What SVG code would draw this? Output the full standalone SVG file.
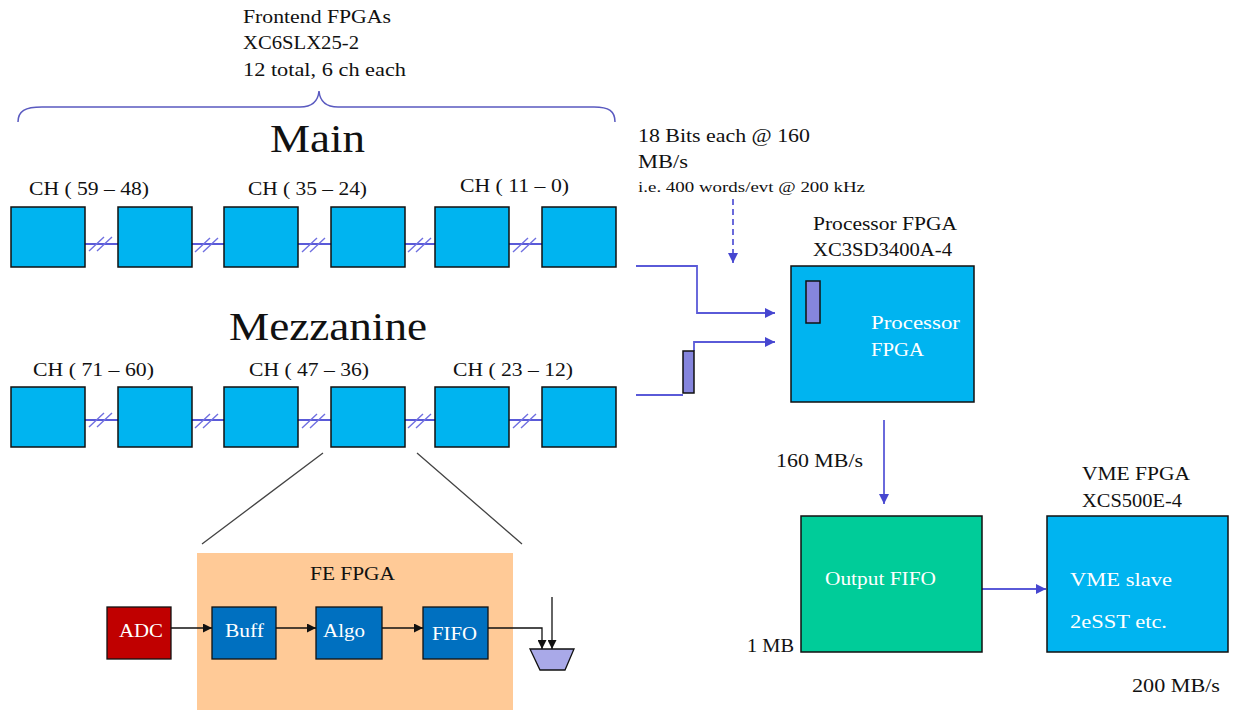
<svg xmlns="http://www.w3.org/2000/svg" width="1233" height="710" viewBox="0 0 1233 710">
<defs>
<style>
text{font-family:"Liberation Serif","Times New Roman",serif;font-size:18px;fill:#111}
.w{fill:#fff}
.big{font-size:40px}
.sm{font-size:14px}
.ch{fill:#00B4F0;stroke:#111;stroke-width:1.5}
.pur{fill:#8585DD;stroke:#111;stroke-width:1.5}
.bus{stroke:#5A5AD8;stroke-width:1.8;fill:none}
.hash{stroke:#7070E0;stroke-width:1.4;fill:none}
.blk{stroke:#111;stroke-width:1.3;fill:none}
.gry{stroke:#444;stroke-width:1.3;fill:none}
</style>
<marker id="ab" viewBox="0 0 10 10" refX="10" refY="5" markerWidth="10" markerHeight="10" markerUnits="userSpaceOnUse" orient="auto"><path d="M0,0 L10,5 L0,10 Z" fill="#4646D0"/></marker>
<marker id="ak" viewBox="0 0 10 10" refX="10" refY="5" markerWidth="9" markerHeight="9" markerUnits="userSpaceOnUse" orient="auto"><path d="M0,0 L10,5 L0,10 Z" fill="#111"/></marker>
</defs>
<rect width="1233" height="710" fill="#fff"/>

<g id="header">
<text x="243" y="23" textLength="148" lengthAdjust="spacingAndGlyphs">Frontend FPGAs</text>
<text x="243" y="49" textLength="116" lengthAdjust="spacingAndGlyphs">XC6SLX25-2</text>
<text x="243" y="76" textLength="163" lengthAdjust="spacingAndGlyphs">12  total, 6 ch each</text>
<path d="M18,122 C18,111 25,107 42,107 L300,107 C312,107 318,102 319,91 C320,102 326,107 338,107 L594,107 C609,107 615,111 615,122" fill="none" stroke="#5A5AC0" stroke-width="1.5"/>
<text class="big" x="270" y="152" textLength="95" lengthAdjust="spacingAndGlyphs">Main</text>
<text class="big" x="229" y="340" textLength="198" lengthAdjust="spacingAndGlyphs">Mezzanine</text>
</g>

<g id="connectors">
<!-- main row links -->
<path class="bus" d="M85,244 H118 M192,244 H224 M298,244 H331 M405,244 H435 M509,244 H542"/>
<path class="hash" d="M89,251 L104,237 M97,251 L112,237 M195,252 L210,238 M203,252 L218,238 M302,252 L317,238 M310,252 L325,238 M408,252 L423,238 M416,252 L431,238 M513,252 L528,238 M521,252 L536,238"/>
<!-- mezz row links -->
<path class="bus" d="M85,420 H118 M192,420 H224 M298,420 H331 M405,420 H435 M509,420 H542"/>
<path class="hash" d="M89,427 L104,413 M97,427 L112,413 M195,428 L210,414 M203,428 L218,414 M302,428 L317,414 M310,428 L325,414 M408,428 L423,414 M416,428 L431,414 M513,428 L528,414 M521,428 L536,414"/>
<!-- to processor -->
<path class="bus" d="M636,266 H697 V313 H775" marker-end="url(#ab)"/>
<path class="bus" d="M636,395 H683"/>
<path class="bus" d="M694,351 V342 H775" marker-end="url(#ab)"/>
<path class="bus" d="M733,199 V263" stroke-dasharray="6,4" marker-end="url(#ab)"/>
<path class="bus" d="M884,420 V504" marker-end="url(#ab)"/>
<path class="bus" d="M982,589 H1046" marker-end="url(#ab)"/>
<!-- zoom lines -->
<path class="gry" d="M323,453 L202,544 M417,453 L522,544"/>
</g>

<g id="main-row">
<rect class="ch" x="11" y="207" width="74" height="60"/>
<rect class="ch" x="118" y="207" width="74" height="60"/>
<rect class="ch" x="224" y="207" width="74" height="60"/>
<rect class="ch" x="331" y="207" width="74" height="60"/>
<rect class="ch" x="435" y="207" width="74" height="60"/>
<rect class="ch" x="542" y="207" width="74" height="60"/>
<text x="29" y="195" textLength="120" lengthAdjust="spacingAndGlyphs">CH ( 59 – 48)</text>
<text x="248" y="195" textLength="119" lengthAdjust="spacingAndGlyphs">CH ( 35 – 24)</text>
<text x="460" y="192" textLength="109" lengthAdjust="spacingAndGlyphs">CH ( 11 – 0)</text>
</g>

<g id="mezz-row">
<rect class="ch" x="11" y="387" width="74" height="60"/>
<rect class="ch" x="118" y="387" width="74" height="60"/>
<rect class="ch" x="224" y="387" width="74" height="60"/>
<rect class="ch" x="331" y="387" width="74" height="60"/>
<rect class="ch" x="435" y="387" width="74" height="60"/>
<rect class="ch" x="542" y="387" width="74" height="60"/>
<text x="33" y="376" textLength="121" lengthAdjust="spacingAndGlyphs">CH ( 71 – 60)</text>
<text x="249" y="376" textLength="120" lengthAdjust="spacingAndGlyphs">CH ( 47 – 36)</text>
<text x="453" y="376" textLength="120" lengthAdjust="spacingAndGlyphs">CH ( 23 – 12)</text>
<rect class="pur" x="683" y="351" width="11" height="42"/>
</g>

<g id="rate-label">
<text x="638" y="142" textLength="172" lengthAdjust="spacingAndGlyphs">18  Bits  each @ 160</text>
<text x="638" y="168" textLength="50" lengthAdjust="spacingAndGlyphs">MB/s</text>
<text class="sm" x="638" y="192" textLength="227" lengthAdjust="spacingAndGlyphs">i.e. 400 words/evt @ 200 kHz</text>
</g>

<g id="processor">
<text x="813" y="230" textLength="144" lengthAdjust="spacingAndGlyphs">Processor FPGA</text>
<text x="813" y="256" textLength="139" lengthAdjust="spacingAndGlyphs">XC3SD3400A-4</text>
<rect class="ch" x="791" y="266" width="183" height="136"/>
<rect class="pur" x="806" y="281" width="14" height="42"/>
<text class="w" x="871" y="329" textLength="89" lengthAdjust="spacingAndGlyphs">Processor</text>
<text class="w" x="871" y="356" textLength="53" lengthAdjust="spacingAndGlyphs">FPGA</text>
</g>

<g id="output-fifo">
<text x="776" y="467" textLength="87" lengthAdjust="spacingAndGlyphs">160  MB/s</text>
<rect x="801" y="516" width="181" height="136" fill="#00CC99" stroke="#111" stroke-width="1.5"/>
<text class="w" x="825" y="585" textLength="111" lengthAdjust="spacingAndGlyphs">Output FIFO</text>
<text x="747" y="652" textLength="47" lengthAdjust="spacingAndGlyphs">1 MB</text>
</g>

<g id="vme">
<text x="1082" y="480" textLength="108" lengthAdjust="spacingAndGlyphs">VME  FPGA</text>
<text x="1082" y="507" textLength="100" lengthAdjust="spacingAndGlyphs">XCS500E-4</text>
<rect class="ch" x="1047" y="516" width="181" height="136"/>
<text class="w" x="1070" y="586" textLength="102" lengthAdjust="spacingAndGlyphs">VME  slave</text>
<text class="w" x="1070" y="628" textLength="97" lengthAdjust="spacingAndGlyphs">2eSST  etc.</text>
<text x="1132" y="692" textLength="88" lengthAdjust="spacingAndGlyphs">200  MB/s</text>
</g>

<g id="fe-fpga">
<rect x="197" y="553" width="316" height="157" fill="#FFCA97"/>
<text x="310" y="580" textLength="85" lengthAdjust="spacingAndGlyphs">FE  FPGA</text>
</g>

<g id="fe-chain">
<path class="blk" d="M171,628 H212" marker-end="url(#ak)"/>
<path class="blk" d="M276,628 H316" marker-end="url(#ak)"/>
<path class="blk" d="M382,628 H423" marker-end="url(#ak)"/>
<path class="blk" d="M488,628 H542 V649" marker-end="url(#ak)"/>
<path class="blk" d="M552,597 V649" marker-end="url(#ak)"/>
</g>

<g id="adc"><rect x="107" y="607" width="64" height="52" fill="#C00000" stroke="#111" stroke-width="1.3"/><text class="w" x="119" y="637" textLength="44" lengthAdjust="spacingAndGlyphs">ADC</text></g>
<g id="buff"><rect x="212" y="607" width="64" height="52" fill="#0070C0" stroke="#111" stroke-width="1.3"/><text class="w" x="225" y="637" textLength="39" lengthAdjust="spacingAndGlyphs">Buff</text></g>
<g id="algo"><rect x="316" y="607" width="66" height="52" fill="#0070C0" stroke="#111" stroke-width="1.3"/><text class="w" x="323" y="637" textLength="42" lengthAdjust="spacingAndGlyphs">Algo</text></g>
<g id="fifo"><rect x="423" y="607" width="65" height="52" fill="#0070C0" stroke="#111" stroke-width="1.3"/><text class="w" x="432" y="640" textLength="45" lengthAdjust="spacingAndGlyphs">FIFO</text></g>
<g id="mux"><path d="M530,649 H574 L565,670 H540 Z" fill="#A9A9E8" stroke="#111" stroke-width="1.3"/></g>
</svg>
